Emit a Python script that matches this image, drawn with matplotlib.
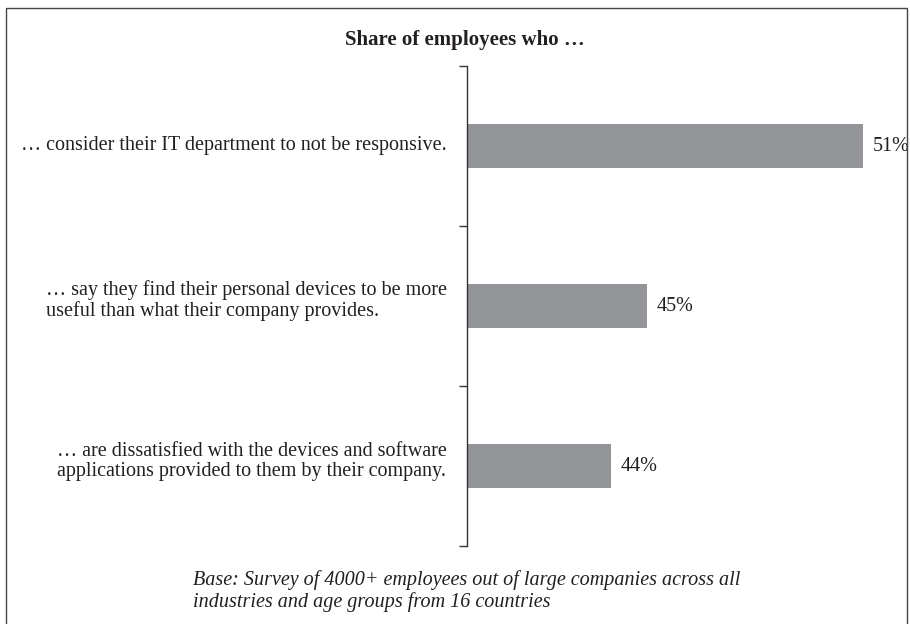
import matplotlib
matplotlib.use("Agg")
import matplotlib.pyplot as plt
from matplotlib.patches import Rectangle

categories = [
    "… consider their IT department to not be responsive.",
    "… say they find their personal devices to be more\nuseful than what their company provides.",
    "… are dissatisfied with the devices and software\napplications provided to them by their company.",
]
values = [51, 45, 44]
title = "Share of employees who …"
footnote = ("Base: Survey of 4000+ employees out of large companies across all\n"
            "industries and age groups from 16 countries")

plt.rcParams['font.family'] = ['Liberation Serif', 'DejaVu Serif']
TEXT = "#231f20"
BAR = "#939598"
FS = 14.5

W, H = 910, 624
fig = plt.figure(figsize=(W / 100, H / 100), dpi=100)
fig.patch.set_facecolor("white")

# border
fig.add_artist(Rectangle((6 / W, -0.05), (907 - 6) / W, 1 - 8 / H + 0.05,
                         transform=fig.transFigure, fill=False,
                         edgecolor="#444444", linewidth=1.0))

ax = fig.add_axes([467 / W, 1 - 546 / H, (899 - 467) / W, (546 - 66) / H])
ypos = list(range(len(values)))
ax.barh(ypos, values, height=0.275, color=BAR, left=0)
ax.set_xlim(40, 52)
ax.set_ylim(2.5, -0.5)

for sp in ["top", "right", "bottom"]:
    ax.spines[sp].set_visible(False)
ax.spines["left"].set_color("#333333")
ax.spines["left"].set_linewidth(1.0)
ax.set_xticks([])
ax.set_yticks([-0.5, 0.5, 1.5, 2.5])
ax.set_yticklabels([])
ax.tick_params(axis="y", which="major", length=6, width=1.0, color="#333333", direction="out")

# category labels: last-line baseline placed relative to the bar centre
for y, lab in zip(ypos, categories):
    nlines = lab.count("\n") + 1
    ax.annotate(lab, xy=(0, y), xycoords=("axes fraction", "data"),
                xytext=(-20, -4 - 6 * (nlines - 1)), textcoords="offset pixels",
                ha="right", va="baseline", multialignment="left",
                linespacing=1.1, fontsize=FS, color=TEXT)

for y, v in zip(ypos, values):
    ax.annotate(f"{v}%", xy=(v, y), xytext=(10, 0), textcoords="offset pixels",
                va="center", ha="left", fontsize=FS, color=TEXT)

fig.text(465 / W, 1 - 40.5 / H, title, ha="center", va="center",
         fontsize=15, fontweight="bold", color=TEXT)
fig.text(193 / W, 1 - 591 / H, footnote, ha="left", va="center",
         fontsize=FS, style="italic", color=TEXT, linespacing=1.1)

fig.savefig("out.png", dpi=100)
